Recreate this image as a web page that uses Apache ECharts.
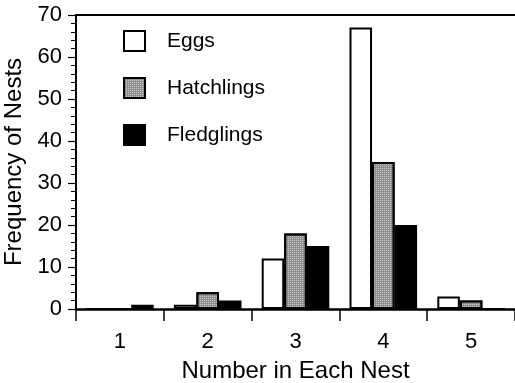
<!DOCTYPE html>
<html><head><meta charset="utf-8">
<script src="https://cdn.jsdelivr.net/npm/echarts@6/dist/echarts.min.js"></script>
<style>html,body{margin:0;padding:0;background:#fff}#c{width:515px;height:383px}</style>
</head><body><div id="c"></div>
<script>
const categories = ['1', '2', '3', '4', '5'];
const eggs = [0, 1, 12, 67, 3];
const hatchlings = [0, 4, 18, 35, 2];
const fledglings = [1, 2, 15, 20, 0];
const seriesNames = ['Eggs', 'Hatchlings', 'Fledglings'];

const FONT = 'Liberation Sans, Arial, Helvetica, sans-serif';
const chart = echarts.init(document.getElementById('c'), null, {renderer: 'canvas'});
const barStyle = (fill) => ({color: fill, borderColor: '#000', borderWidth: 2});
const stipple = {
  symbol: 'rect', symbolSize: 1, symbolKeepAspect: false,
  dashArrayX: [1, 1], dashArrayY: [1, 1], rotation: 0,
  color: 'rgba(255,255,255,0.55)'
};
chart.setOption({
  animation: false,
  backgroundColor: '#fff',
  textStyle: {fontFamily: FONT, color: '#000'},
  grid: {left: 76, top: 15, right: 0, bottom: 74, containLabel: false, outerBoundsMode: 'none'},
  legend: {
    orient: 'vertical', left: 123, top: 30, padding: 0,
    itemWidth: 21, itemHeight: 20, itemGap: 25,
    textStyle: {fontSize: 21, color: '#000', fontFamily: FONT, padding: [0, 0, 0, 17]},
    data: seriesNames.map(n => ({name: n, icon: 'rect'}))
  },
  xAxis: [{
    type: 'category', data: categories, position: 'bottom',
    axisLine: {lineStyle: {color: '#000', width: 2.5}},
    axisTick: {show: true, length: 12, alignWithLabel: false, lineStyle: {color: '#000', width: 1.5}},
    axisLabel: {fontSize: 22, color: '#000', margin: 22, fontFamily: FONT},
    name: 'Number in Each Nest', nameLocation: 'middle', nameGap: 50,
    nameTextStyle: {fontSize: 24, color: '#000', fontFamily: FONT}
  }, {
    type: 'category', data: categories, position: 'top',
    axisLine: {lineStyle: {color: '#000', width: 2}},
    axisTick: {show: false}, axisLabel: {show: false}
  }],
  yAxis: {
    type: 'value', min: 0, max: 70, interval: 10,
    axisLine: {show: true, lineStyle: {color: '#000', width: 2}},
    axisTick: {show: true, length: 8, lineStyle: {color: '#000', width: 1.2}},
    minorTick: {show: true, splitNumber: 5, length: 5, lineStyle: {color: '#000', width: 1}},
    splitLine: {show: false},
    axisLabel: {fontSize: 22, color: '#000', margin: 14, fontFamily: FONT},
    name: 'Frequency of Nests', nameLocation: 'middle', nameGap: 50,
    nameTextStyle: {fontSize: 24, color: '#000', fontFamily: FONT}
  },
  series: [
    {name: seriesNames[0], type: 'bar', data: eggs, itemStyle: barStyle('#ffffff'), barGap: '0%', barCategoryGap: '23%'},
    {name: seriesNames[1], type: 'bar', data: hatchlings, itemStyle: Object.assign(barStyle('#8e8e8e'), {decal: stipple})},
    {name: seriesNames[2], type: 'bar', data: fledglings, itemStyle: barStyle('#000000')}
  ]
});
</script></body></html>
